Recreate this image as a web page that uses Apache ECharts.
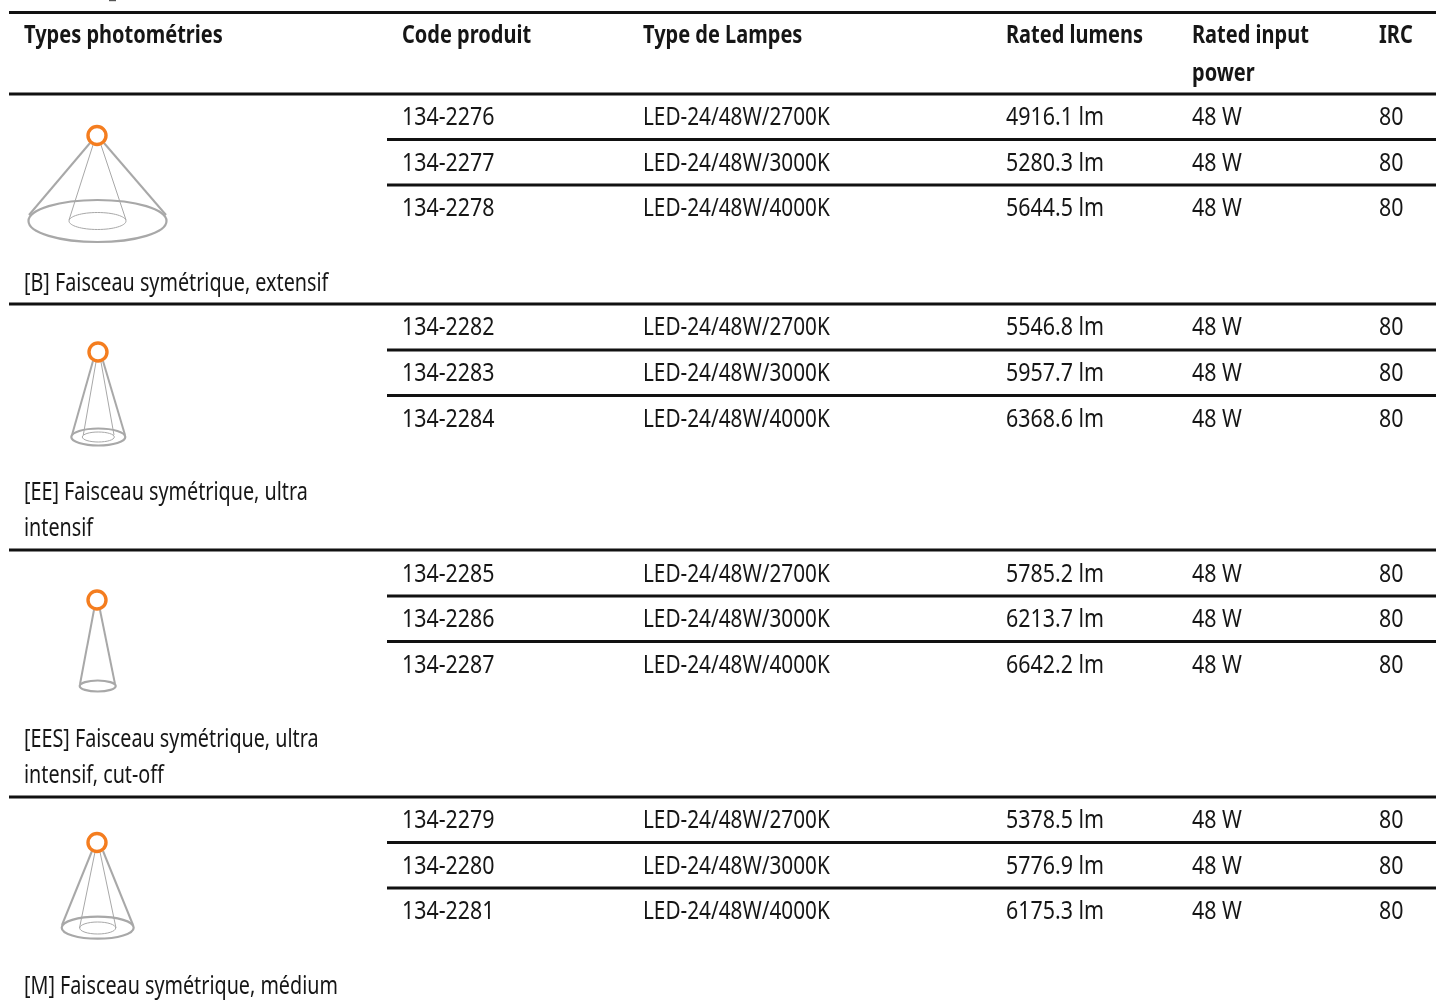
<!DOCTYPE html>
<html><head><meta charset="utf-8">
<style>html,body{margin:0;padding:0;background:#fff}#c{width:1436px;height:1001px}</style>
<script src="https://cdn.jsdelivr.net/npm/echarts@6/dist/echarts.min.js"></script>
</head><body><div id="c"></div>
<script>
const headers = ["Types photométries","Code produit","Type de Lampes","Rated lumens",["Rated input","power"],"IRC"];
const beams = [["[B] Faisceau symétrique, extensif"],["[EE] Faisceau symétrique, ultra","intensif"],["[EES] Faisceau symétrique, ultra","intensif, cut-off"],["[M] Faisceau symétrique, médium"]];
const codes = [["134-2276","134-2277","134-2278"],["134-2282","134-2283","134-2284"],["134-2285","134-2286","134-2287"],["134-2279","134-2280","134-2281"]];
const lamps = ["LED-24/48W/2700K","LED-24/48W/3000K","LED-24/48W/4000K"];
const lumens = [[4916.1,5280.3,5644.5],[5546.8,5957.7,6368.6],[5785.2,6213.7,6642.2],[5378.5,5776.9,6175.3]];
const power = 48;
const irc = 80;

// layout
const colX = [24,402,643,1006,1192,1379];
const rowY = [[118,164,209],[328,374,420],[575,620,666],[821,867,912]];
const fullLines = [12.5,94,304,550,797];
const subLines = [139.5,185,350,395.5,596,641.5,842.5,888];
const labelY = [[284],[493,529],[740,776],[987]];
const icons = [
 {c:[97,135.5],e:[97.5,221,69,21],i:[97.5,221,28.5,8.5],o:[[90,143,29,215],[104,143,166,215]],n:[[93,145,69,220],[101,145,126,220]]},
 {c:[98,352],e:[98.3,437,27,8.5],i:[98.3,437,16,5],o:[[93,361,72,435],[103,361,125,435]],n:[[96,362,83.3,435],[101,362,114,435]]},
 {c:[97,600],e:[97.7,686,18,5.5],o:[[94,610,80,684],[100,610,115,684]]},
 {c:[97,842.5],e:[97.7,927.7,36,11],i:[97.7,928,18,6],o:[[92,851,62,925],[103,851,133,925]],n:[[95,852,79.5,928],[100,852,116,928]]}
];
const FONT = '"Noto Sans"';
const SCALE = {head:0.80, label:0.79, num:0.855, lamp:0.83};
const txt = (s,x,y,kind) => ({type:'text',x,y,scaleX:SCALE[kind],style:{text:s,x:0,y:0,fill:'#161616',
  font:(kind==='head'?'700 25px ':'400 25px ')+FONT,textAlign:'left',textVerticalAlign:'middle'}});
const line = (x1,y1,x2,y2,w,col) => ({type:'line',shape:{x1,y1,x2,y2},style:{stroke:col,lineWidth:w,lineCap:'butt'}});
const ell = (a,w) => ({type:'ellipse',shape:{cx:a[0],cy:a[1],rx:a[2],ry:a[3]},style:{fill:'none',stroke:'#a8a8a8',lineWidth:w}});

function renderTable(){
  const ch=[];
  ch.push(line(109,0.5,116,0.5,1.4,'#555'));
  fullLines.forEach(y=>ch.push(line(9,y,1436,y,2.8,'#111')));
  subLines.forEach(y=>ch.push(line(387,y,1436,y,2.8,'#111')));
  headers.forEach((h,i)=>{ (Array.isArray(h)?h:[h]).forEach((t,k)=>ch.push(txt(t,colX[i],36+k*37.5,'head'))); });
  codes.forEach((g,gi)=>{
    g.forEach((code,r)=>{
      const y=rowY[gi][r];
      ch.push(txt(code,colX[1],y,'num'),txt(lamps[r],colX[2],y,'lamp'),txt(lumens[gi][r].toFixed(1)+' lm',colX[3],y,'num'),txt(power+' W',colX[4],y,'num'),txt(String(irc),colX[5],y,'num'));
    });
    beams[gi].forEach((t,k)=>ch.push(txt(t,colX[0],labelY[gi][k],'label')));
    const ic=icons[gi];
    ch.push(ell(ic.e,2.2));
    ic.o.forEach(l=>ch.push(line(l[0],l[1],l[2],l[3],2,'#a8a8a8')));
    if(ic.i) ch.push(ell(ic.i,1));
    (ic.n||[]).forEach(l=>ch.push(line(l[0],l[1],l[2],l[3],1,'#a8a8a8')));
    ch.push({type:'circle',shape:{cx:ic.c[0],cy:ic.c[1],r:9},style:{fill:'#fff',stroke:'#f47d1f',lineWidth:3.4}});
  });
  return {type:'group',children:ch};
}
const chart = echarts.init(document.getElementById('c'),null,{renderer:'canvas'});
chart.setOption({animation:false,backgroundColor:'#fff',
  series:[{type:'custom',coordinateSystem:'none',silent:true,data:[0],renderItem:renderTable}]});
</script></body></html>
